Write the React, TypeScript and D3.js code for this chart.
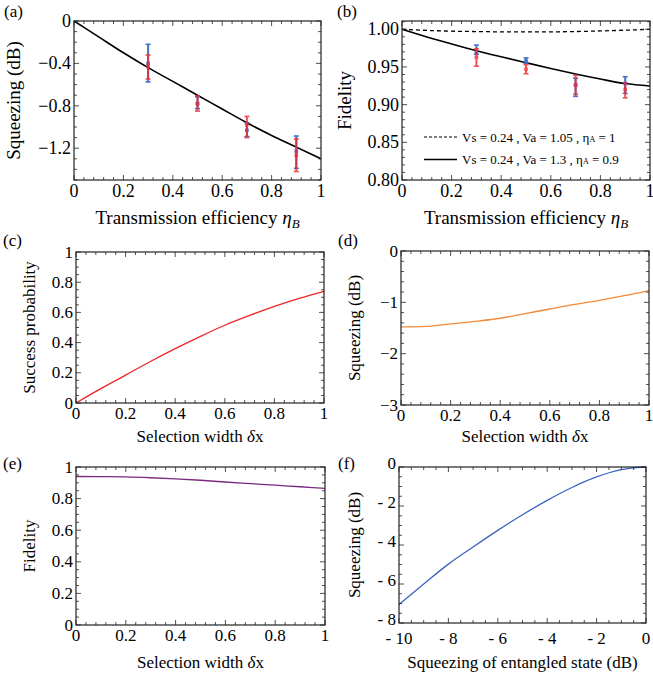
import React from "react";
import * as d3 from "d3";

// ---------- data ----------
const etaGrid = [0, 0.1, 0.2, 0.3, 0.4, 0.5, 0.6, 0.7, 0.8, 0.9, 1];
const squeezeTheory = [0, -0.15, -0.3, -0.44, -0.57, -0.7, -0.83, -0.96, -1.08, -1.19, -1.3];
const fidDashed = [1.0, 0.9985, 0.9975, 0.997, 0.9966, 0.9965, 0.9966, 0.997, 0.9978, 0.9988, 1.0];
const fidSolid = [1.0, 0.9898, 0.9805, 0.9716, 0.9635, 0.9557, 0.948, 0.9407, 0.934, 0.928, 0.9248];

const expX = [0.3, 0.5, 0.7, 0.9];
const sqBlueMid = [-0.4, -0.78, -1.03, -1.23];
const sqBlueLo = [-0.575, -0.827, -1.09, -1.39];
const sqBlueHi = [-0.22, -0.714, -0.96, -1.085];
const sqRedMid = [-0.43, -0.78, -0.98, -1.27];
const sqRedLo = [-0.547, -0.85, -1.1, -1.42];
const sqRedHi = [-0.32, -0.705, -0.9, -1.113];

const fdBlueMid = [0.97, 0.958, 0.926, 0.928];
const fdBlueLo = [0.967, 0.955, 0.911, 0.915];
const fdBlueHi = [0.979, 0.962, 0.935, 0.937];
const fdRedMid = [0.963, 0.947, 0.926, 0.92];
const fdRedLo = [0.951, 0.941, 0.914, 0.909];
const fdRedHi = [0.974, 0.953, 0.939, 0.929];

const dxGrid = [0, 0.1, 0.2, 0.3, 0.4, 0.5, 0.6, 0.7, 0.8, 0.9, 1];
const successProb = [0, 0.095, 0.185, 0.275, 0.36, 0.44, 0.515, 0.58, 0.64, 0.693, 0.74];
const squeezeDx = [-1.48, -1.47, -1.42, -1.37, -1.31, -1.22, -1.13, -1.04, -0.96, -0.87, -0.77];
const fidelityDx = [0.94, 0.939, 0.937, 0.932, 0.925, 0.916, 0.905, 0.895, 0.885, 0.875, 0.865];

const entGrid = [-10, -9, -8, -7, -6, -5, -4, -3, -2, -1, -0.5, 0];
const squeezeEnt = [-7.05, -6.0, -4.98, -4.1, -3.25, -2.45, -1.71, -1.05, -0.51, -0.14, -0.04, 0];

const legendLabels = ["Vs = 0.24 , Va = 1.05 , ", "Vs = 0.24 , Va = 1.3 , "];
const legendEta = ["= 1", "= 0.9"];

const FONT = "'Liberation Serif', 'DejaVu Serif', serif";

type Series = { xs: number[]; ys: number[]; color: string; dash?: string; width?: number };

type PanelProps = {
  label: string;
  x0: number; x1: number; y0: number; y1: number;
  xDomain: [number, number]; yDomain: [number, number];
  xTicks: number[]; yTicks: number[];
  xMinor: number; yMinor: number;
  xFmt: (v: number) => string; yFmt: (v: number) => string;
  tickSize: number;
  xTickDy?: number;
  yTickDy?: number;
  series: Series[];
  xTitle: React.ReactNode; yTitle: string;
  titleSize: number;
  xTitleY: number; yTitleX: number;
  labelX: number; labelY: number;
  children?: (x: d3.ScaleLinear<number, number>, y: d3.ScaleLinear<number, number>) => React.ReactNode;
};

function range(a: number, b: number, s: number) {
  const out: number[] = [];
  const lo = Math.min(a, b), hi = Math.max(a, b);
  for (let v = lo; v <= hi + 1e-9; v += s) out.push(+v.toFixed(6));
  return out;
}

function Panel(p: PanelProps) {
  const x = d3.scaleLinear().domain(p.xDomain).range([p.x0, p.x1]);
  const y = d3.scaleLinear().domain(p.yDomain).range([p.y1, p.y0]);
  const xMin = range(p.xDomain[0], p.xDomain[1], p.xMinor);
  const yMin = range(p.yDomain[0], p.yDomain[1], p.yMinor);
  const isMajor = (v: number, arr: number[]) => arr.some((t) => Math.abs(t - v) < 1e-6);
  const line = d3.line<[number, number]>().x((d) => x(d[0])).y((d) => y(d[1])).curve(d3.curveMonotoneX);
  const M = 5, m = 3;
  return (
    <g>
      <text x={p.labelX} y={p.labelY} fontFamily={FONT} fontSize={17}>{p.label}</text>
      {p.series.map((s, i) => (
        <path key={i} d={line(s.xs.map((v, j) => [v, s.ys[j]] as [number, number])) || ""}
          fill="none" stroke={s.color} strokeWidth={s.width ?? 1.4} strokeDasharray={s.dash} />
      ))}
      {p.children && p.children(x, y)}
      {xMin.map((v, i) => {
        const L = isMajor(v, p.xTicks) ? M : m;
        return (
          <g key={"xt" + i}>
            <line x1={x(v)} x2={x(v)} y1={p.y1} y2={p.y1 - L} stroke="#222" strokeWidth={0.8} />
            <line x1={x(v)} x2={x(v)} y1={p.y0} y2={p.y0 + L} stroke="#222" strokeWidth={0.8} />
          </g>
        );
      })}
      {yMin.map((v, i) => {
        const L = isMajor(v, p.yTicks) ? M : m;
        return (
          <g key={"yt" + i}>
            <line y1={y(v)} y2={y(v)} x1={p.x0} x2={p.x0 + L} stroke="#222" strokeWidth={0.8} />
            <line y1={y(v)} y2={y(v)} x1={p.x1} x2={p.x1 - L} stroke="#222" strokeWidth={0.8} />
          </g>
        );
      })}
      <rect x={p.x0} y={p.y0} width={p.x1 - p.x0} height={p.y1 - p.y0} fill="none" stroke="#222" strokeWidth={1.2} />
      {p.xTicks.map((v, i) => (
        <text key={"xl" + i} x={x(v)} y={p.y1 + p.tickSize * 0.95 + (p.xTickDy ?? 0)} textAnchor="middle"
          fontFamily={FONT} fontSize={p.tickSize}>{p.xFmt(v)}</text>
      ))}
      {p.yTicks.map((v, i) => (
        <text key={"yl" + i} x={p.x0 - 3} y={y(v) + p.tickSize * 0.33 + (p.yTickDy ?? 0)} textAnchor="end"
          fontFamily={FONT} fontSize={p.tickSize}>{p.yFmt(v)}</text>
      ))}
      <text x={(p.x0 + p.x1) / 2} y={p.xTitleY} textAnchor="middle" fontFamily={FONT} fontSize={p.titleSize}>{p.xTitle}</text>
      <text transform={`translate(${p.yTitleX},${(p.y0 + p.y1) / 2}) rotate(-90)`} textAnchor="middle"
        fontFamily={FONT} fontSize={p.titleSize}>{p.yTitle}</text>
    </g>
  );
}

function ErrBars(props: { x: d3.ScaleLinear<number, number>; y: d3.ScaleLinear<number, number>;
  xs: number[]; mid: number[]; lo: number[]; hi: number[]; color: string; opacity: number }) {
  const { x, y, xs, mid, lo, hi, color, opacity } = props;
  return (
    <g opacity={opacity}>
      {xs.map((v, i) => (
        <g key={i}>
          <line x1={x(v)} x2={x(v)} y1={y(lo[i])} y2={y(hi[i])} stroke={color} strokeWidth={2} />
          <line x1={x(v) - 2.5} x2={x(v) + 2.5} y1={y(lo[i])} y2={y(lo[i])} stroke={color} strokeWidth={1.6} />
          <line x1={x(v) - 2.5} x2={x(v) + 2.5} y1={y(hi[i])} y2={y(hi[i])} stroke={color} strokeWidth={1.6} />
          <rect x={x(v) - 1.8} y={y(mid[i]) - 1.8} width={3.6} height={3.6} fill={color} />
        </g>
      ))}
    </g>
  );
}

const etaTitle = (
  <>
    Transmission efficiency <tspan fontStyle="italic">η</tspan>
    <tspan fontStyle="italic" fontSize={13} dy={4}>B</tspan>
  </>
);
const dxTitle = (
  <>
    Selection width <tspan fontStyle="italic">δ</tspan>x
  </>
);

const fmt1 = (v: number) => (v === 0 ? "0" : v === 1 ? "1" : d3.format(".1f")(v).replace("-", "−"));
const fmt2 = (v: number) => d3.format(".2f")(v);
const fmtInt = (v: number) => (v === 0 ? "0" : String(v).replace("-", "−"));
const fmtSp = (v: number) => (v === 0 ? "0" : "- " + Math.abs(v));

export default function App() {
  return (
    <svg width={653} height={677} style={{ display: "block", position: "absolute", left: 0, top: 0 }}>
      <rect width={653} height={677} fill="#fff" />
      {/* (a) */}
      <Panel label="(a)" labelX={4} labelY={17}
        x0={74} x1={321} y0={21} y1={180}
        xDomain={[0, 1]} yDomain={[-1.5, 0]}
        xTicks={[0, 0.2, 0.4, 0.6, 0.8, 1]} yTicks={[0, -0.4, -0.8, -1.2]}
        xMinor={0.04} yMinor={0.1}
        xFmt={fmt1} yFmt={fmt1} tickSize={18}
        series={[{ xs: etaGrid, ys: squeezeTheory, color: "#000", width: 1.6 }]}
        xTitle={etaTitle} yTitle="Squeezing (dB)" titleSize={19}
        xTitleY={224} yTitleX={20}>
        {(x, y) => (
          <>
            <ErrBars x={x} y={y} xs={expX} mid={sqBlueMid} lo={sqBlueLo} hi={sqBlueHi} color="#3b6cc4" opacity={0.95} />
            <ErrBars x={x} y={y} xs={expX} mid={sqRedMid} lo={sqRedLo} hi={sqRedHi} color="#f0282e" opacity={0.8} />
          </>
        )}
      </Panel>
      {/* (b) */}
      <Panel label="(b)" labelX={337} labelY={17}
        x0={402} x1={650} y0={21} y1={180}
        xDomain={[0, 1]} yDomain={[0.8, 1.011]}
        xTicks={[0, 0.2, 0.4, 0.6, 0.8, 1]} yTicks={[0.8, 0.85, 0.9, 0.95, 1.0]}
        xMinor={0.04} yMinor={0.01}
        xFmt={fmt1} yFmt={fmt2} tickSize={18}
        series={[
          { xs: etaGrid, ys: fidDashed, color: "#000", dash: "4,3", width: 1.3 },
          { xs: etaGrid, ys: fidSolid, color: "#000", width: 1.6 },
        ]}
        xTitle={etaTitle} yTitle="Fidelity" titleSize={19}
        xTitleY={224} yTitleX={351}>
        {(x, y) => (
          <>
            <ErrBars x={x} y={y} xs={expX} mid={fdBlueMid} lo={fdBlueLo} hi={fdBlueHi} color="#3b6cc4" opacity={0.95} />
            <ErrBars x={x} y={y} xs={expX} mid={fdRedMid} lo={fdRedLo} hi={fdRedHi} color="#f0282e" opacity={0.8} />
            {[0, 1].map((i) => (
              <g key={i}>
                <line x1={424} x2={457} y1={137 + i * 22.5} y2={137 + i * 22.5} stroke="#000"
                  strokeWidth={i === 0 ? 1.1 : 1.4} strokeDasharray={i === 0 ? "3,2" : undefined} />
                <text x={462} y={141.5 + i * 22.5} fontFamily={FONT} fontSize={13}>
                  {legendLabels[i]}η<tspan fontSize={8}>A</tspan> {legendEta[i]}
                </text>
              </g>
            ))}
          </>
        )}
      </Panel>
      {/* (c) */}
      <Panel label="(c)" labelX={3} labelY={246}
        x0={76} x1={324} y0={252} y1={403}
        xDomain={[0, 1]} yDomain={[0, 1]}
        xTicks={[0, 0.2, 0.4, 0.6, 0.8, 1]} yTicks={[0, 0.2, 0.4, 0.6, 0.8, 1]}
        xMinor={0.04} yMinor={0.05}
        xFmt={fmt1} yFmt={fmt1} tickSize={17}
        series={[{ xs: dxGrid, ys: successProb, color: "#ee2525", width: 1.3 }]}
        xTitle={dxTitle} yTitle="Success probability" titleSize={17}
        xTitleY={442} yTitleX={35} />
      {/* (d) */}
      <Panel label="(d)" labelX={338} labelY={246}
        x0={401} x1={649} y0={251} y1={405}
        xDomain={[0, 1]} yDomain={[-3, 0]}
        xTicks={[0, 0.2, 0.4, 0.6, 0.8, 1]} yTicks={[0, -1, -2, -3]}
        xMinor={0.04} yMinor={0.2}
        xFmt={fmt1} yFmt={fmtInt} tickSize={17}
        series={[{ xs: dxGrid, ys: squeezeDx, color: "#f28a3a", width: 1.3 }]}
        xTitle={dxTitle} yTitle="Squeezing (dB)" titleSize={17}
        xTitleY={442} yTitleX={360} />
      {/* (e) */}
      <Panel label="(e)" labelX={3} labelY={469}
        x0={76} x1={325} y0={467} y1={625}
        xDomain={[0, 1]} yDomain={[0, 1]}
        xTicks={[0, 0.2, 0.4, 0.6, 0.8, 1]} yTicks={[0, 0.2, 0.4, 0.6, 0.8, 1]}
        xMinor={0.04} yMinor={0.05}
        xFmt={fmt1} yFmt={fmt1} tickSize={17}
        series={[{ xs: dxGrid, ys: fidelityDx, color: "#7a2a80", width: 1.3 }]}
        xTitle={dxTitle} yTitle="Fidelity" titleSize={17}
        xTitleY={668} yTitleX={35} />
      {/* (f) */}
      <Panel label="(f)" labelX={338} labelY={469}
        x0={399} x1={646} y0={467} y1={623}
        xDomain={[-10, 0]} yDomain={[-8, 0]}
        xTicks={[-10, -8, -6, -4, -2, 0]} yTicks={[0, -2, -4, -6, -8]}
        xMinor={0.5} yMinor={0.5}
        xFmt={fmtSp} yFmt={fmtSp} tickSize={17} xTickDy={5} yTickDy={-4}
        series={[{ xs: entGrid, ys: squeezeEnt, color: "#3a64c0", width: 1.3 }]}
        xTitle="Squeezing of entangled state (dB)" yTitle="Squeezing (dB)" titleSize={17}
        xTitleY={668} yTitleX={360} />
    </svg>
  );
}
